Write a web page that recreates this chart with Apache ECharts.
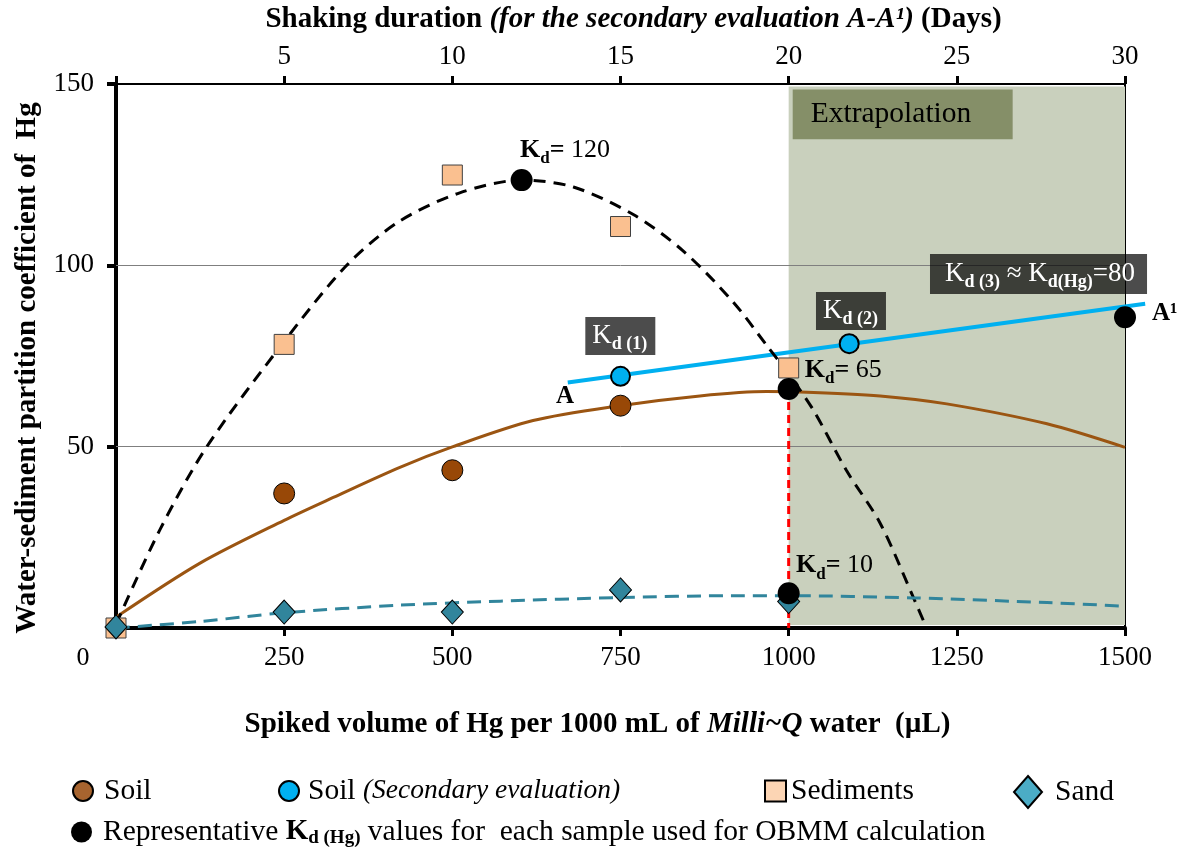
<!DOCTYPE html>
<html><head><meta charset="utf-8">
<script src="https://cdn.jsdelivr.net/npm/echarts@6/dist/echarts.min.js"></script>
<style>html,body{margin:0;padding:0;background:#fff}#c{width:1179px;height:852px}</style>
</head><body><div id="c"></div>
<script>
// ---- data ----
const soilX = [250, 500, 750];
const soilY = [37.1, 43.5, 61.3];
const soil2X = [750, 1090];
const soil2Y = [69.4, 78.4];
const sedX = [0, 250, 500, 750, 1000];
const sedY = [0, 78.2, 124.9, 110.7, 71.7];
const sandX = [0, 250, 500, 750, 1000];
const sandY = [0.3, 4.4, 4.4, 10.5, 7.3];
const repX = [603, 1000, 1000, 1500];
const repY = [123.5, 65.9, 9.6, 85.7];
const soilTrendX = [0, 125, 250, 323, 422, 501, 620, 749, 868, 967, 1017, 1136, 1235, 1384, 1500];
const soilTrendY = [3, 17.9, 29.7, 36, 44.3, 50, 57.2, 61.3, 64, 65.2, 65.1, 64, 61.8, 56.3, 49.8];
const sedTrendX = [0, 65, 135, 250, 343, 420, 511, 603, 680, 769, 843, 917, 967, 1000, 1037, 1086, 1136, 1185, 1205];
const sedTrendY = [1, 27, 50, 79, 100, 112, 120, 123.5, 121.6, 114, 104, 90, 78, 70, 60, 43.4, 28.9, 8.6, 0];
const sandTrendX = [0, 125, 250, 422, 571, 749, 917, 1002, 1185, 1384, 1500];
const sandTrendY = [0, 1.8, 4.2, 6.3, 7.4, 8.4, 8.9, 8.9, 8.3, 7, 6];
const lineAX = [671.6, 1530];
const lineAY = [67.7, 89.4];
const kdLineX = [1000, 1000];
const kdLineY = [65.9, 0];
const gridValues = [50, 100];
const xTicks = [0, 250, 500, 750, 1000, 1250, 1500];
const topTicks = [0, 5, 10, 15, 20, 25, 30];
const yTicks = [0, 50, 100, 150];
const extrapolationRange = [1000, 1500];

const zip = (xs, ys) => xs.map((x, i) => [x, ys[i]]);
const F = '"Liberation Serif", "Times New Roman", serif';

const richDark = {
  K: {fontFamily: F, fontSize: 26, fontWeight: 'bold', color: '#000', lineHeight: 34},
  s: {fontFamily: F, fontSize: 17, fontWeight: 'bold', color: '#000', lineHeight: 17, verticalAlign: 'bottom'},
  t: {fontFamily: F, fontSize: 26, color: '#000', lineHeight: 34},
  A: {fontFamily: F, fontSize: 25, fontWeight: 'bold', color: '#000', lineHeight: 30},
  Kw: {fontFamily: F, fontSize: 27, color: '#fff', lineHeight: 34},
  sw: {fontFamily: F, fontSize: 18, fontWeight: 'bold', color: '#fff', lineHeight: 18, verticalAlign: 'bottom'},
  tw: {fontFamily: F, fontSize: 27, color: '#fff', lineHeight: 34}
};
function ann(coord, text, opts) {
  return {
    coord: coord, symbol: 'circle', symbolSize: 0,
    label: Object.assign({show: true, position: 'right', distance: 0, formatter: text, rich: richDark}, opts || {})
  };
}
const boxLabel = {backgroundColor: 'rgba(0,0,0,0.7)', padding: [2, 8, 2, 7]};

const chart = echarts.init(document.getElementById('c'), null, {renderer: 'canvas'});

function legendItem(name, left, top, w, h, icon, itemStyle, fmt, padLeft) {
  return {
    show: true, data: [{name: name, icon: icon, itemStyle: Object.assign({opacity: 1}, itemStyle)}],
    left: left, top: top, itemWidth: w, itemHeight: h, padding: 0, selectedMode: false,
    formatter: fmt,
    textStyle: {fontFamily: F, fontSize: 29, color: '#000', lineHeight: 32, padding: [0, 0, 0, padLeft],
      rich: {
        i: {fontFamily: F, fontSize: 27.5, fontStyle: 'italic', color: '#000', lineHeight: 32},
        K: {fontFamily: F, fontSize: 29, fontWeight: 'bold', color: '#000', lineHeight: 32},
        s: {fontFamily: F, fontSize: 19, fontWeight: 'bold', color: '#000', lineHeight: 16, verticalAlign: 'bottom'},
        n: {fontFamily: F, fontSize: 29.5, color: '#000', lineHeight: 32}
      }
    }
  };
}

const titleRich = {
  b: {fontFamily: F, fontSize: 29, fontWeight: 'bold', color: '#000'},
  bi: {fontFamily: F, fontSize: 29, fontWeight: 'bold', fontStyle: 'italic', color: '#000'}
};

const option = {
  backgroundColor: '#fff',
  animation: false,
  grid: {left: 116, right: 54, top: 82, bottom: 224, containLabel: false},
  legend: [
    legendItem('Soil', 72, 775, 20, 20, 'circle', {color: '#a7642f', borderColor: '#000', borderWidth: 2}, '{n|Soil}', 6),
    legendItem('Soil (Secondary evaluation)', 278, 775, 20, 20, 'circle', {color: '#00b0f0', borderColor: '#000', borderWidth: 2}, '{n|Soil }{i|(Secondary evaluation)}', 4),
    legendItem('Sediments', 764, 775, 21, 21, 'rect', {color: '#fcd5b4', borderColor: '#000', borderWidth: 2}, '{n|Sediments}', 0),
    legendItem('Sand', 1013, 775, 28, 32, 'diamond', {color: '#4bacc6', borderColor: '#000', borderWidth: 2}, '{n|Sand}', 8),
    legendItem('Representative', 71, 816, 21, 21, 'circle', {color: '#000', borderColor: '#000', borderWidth: 0}, '{n|Representative }{K|K}{s|d (Hg)}{n| values for  each sample used for OBMM calculation}', 6)
  ],
  xAxis: [
    {
      type: 'value', position: 'bottom', min: xTicks[0], max: xTicks[xTicks.length - 1], interval: 250,
      axisLine: {show: true, onZero: false, lineStyle: {color: '#000', width: 4}},
      axisTick: {show: true, inside: false, length: 8, lineStyle: {color: '#000', width: 3}},
      axisLabel: {fontFamily: F, fontSize: 27, color: '#000', margin: 16, formatter: v => v === 0 ? '' : String(v)},
      splitLine: {show: false},
      name: '{b|Spiked volume of Hg per 1000 mL of }{bi|Milli~Q}{b| water  (µL)}',
      nameLocation: 'middle', nameGap: 82,
      nameTextStyle: {padding: [0, 46, 0, 0], rich: titleRich}
    },
    {
      type: 'value', position: 'top', min: topTicks[0], max: topTicks[topTicks.length - 1], interval: 5,
      axisLine: {show: true, onZero: false, lineStyle: {color: '#000', width: 2}},
      axisTick: {show: true, inside: false, length: 8, lineStyle: {color: '#000', width: 3}},
      axisLabel: {fontFamily: F, fontSize: 27, color: '#000', margin: 14, formatter: v => v === 0 ? '' : String(v)},
      splitLine: {show: false},
      name: '{b|Shaking duration }{bi|(for the secondary evaluation A-A¹)}{b| (Days)}',
      nameLocation: 'middle', nameGap: 50,
      nameTextStyle: {padding: [0, 0, 0, 26], rich: titleRich}
    }
  ],
  yAxis: [
    {
      type: 'value', position: 'left', min: yTicks[0], max: yTicks[yTicks.length - 1], interval: 50,
      axisLine: {show: true, onZero: false, lineStyle: {color: '#000', width: 4}},
      axisTick: {show: true, inside: false, length: 9, lineStyle: {color: '#000', width: 4}},
      axisLabel: {fontFamily: F, fontSize: 27, color: '#000', margin: 22, formatter: v => v === 0 ? '' : String(v)},
      splitLine: {show: false},
      name: 'Water-sediment partition coefficient of  Hg',
      nameLocation: 'middle', nameGap: 74,
      nameTextStyle: {fontFamily: F, fontSize: 29, fontWeight: 'bold', color: '#000', padding: [0, 24, 0, 0]}
    },
    {
      type: 'value', position: 'right', min: yTicks[0], max: yTicks[yTicks.length - 1], interval: 50,
      axisLine: {show: true, onZero: false, lineStyle: {color: '#000', width: 2}},
      axisTick: {show: false}, axisLabel: {show: false}, splitLine: {show: false}
    }
  ],
  series: [
    {
      name: 'soilTrend', type: 'line', data: zip(soilTrendX, soilTrendY), showSymbol: false, symbol: 'none',
      smooth: 0.3, lineStyle: {color: '#9b5512', width: 3}, z: 3,
      markArea: {silent: true, z: 1, data: [
        [{coord: [extrapolationRange[0], 0.8], itemStyle: {color: '#c9d0bd', opacity: 1}}, {coord: [extrapolationRange[1], 149.3]}],
        [{coord: [1006, 148.5], itemStyle: {color: '#858f68', opacity: 1},
          label: {show: true, position: 'insideLeft', distance: 18, formatter: 'Extrapolation', fontFamily: F, fontSize: 29.5, color: '#000'}},
         {coord: [1333, 134.8]}]
      ]}
    },
    {
      name: 'gridlines', type: 'line', data: [],
      markLine: {silent: true, symbol: 'none', z: 2, label: {show: false},
        lineStyle: {color: '#7f7f7f', width: 1, type: 'solid'},
        data: gridValues.map(v => ({yAxis: v}))}
    },
    {
      name: 'sedTrend', type: 'line', data: zip(sedTrendX, sedTrendY), showSymbol: false, symbol: 'none',
      smooth: 0.3, lineStyle: {color: '#000', width: 3, type: [12, 8]}, z: 3
    },
    {
      name: 'sandTrend', type: 'line', data: zip(sandTrendX, sandTrendY), showSymbol: false, symbol: 'none',
      smooth: 0.3, lineStyle: {color: '#31859c', width: 3, type: [14, 8]}, z: 3
    },
    {
      // A–A¹ line: drawn as a custom series so it can run past the right axis like the reference
      name: 'lineA', type: 'custom', data: zip(lineAX, lineAY), clip: false, silent: true, z: 3,
      renderItem: function (params, api) {
        if (params.dataIndex !== 0) return null;
        const p0 = api.coord([lineAX[0], lineAY[0]]);
        const p1 = api.coord([lineAX[1], lineAY[1]]);
        return {type: 'line', shape: {x1: p0[0], y1: p0[1], x2: p1[0], y2: p1[1]},
          style: {stroke: '#00b0f0', lineWidth: 4, fill: null}};
      }
    },
    {
      name: 'kdLine', type: 'line', data: zip(kdLineX, kdLineY), showSymbol: false, symbol: 'none',
      lineStyle: {color: '#ff0000', width: 3, type: [8, 5]}, z: 3
    },
    {
      name: 'Sediments', type: 'scatter', data: zip(sedX, sedY), symbol: 'rect', symbolSize: 20,
      itemStyle: {color: '#fac090', borderColor: '#404040', borderWidth: 1, opacity: 1}, z: 4
    },
    {
      name: 'Sand', type: 'scatter', data: zip(sandX, sandY), symbol: 'diamond', symbolSize: [22, 24],
      itemStyle: {color: '#31859c', borderColor: '#000', borderWidth: 1, opacity: 1}, z: 4
    },
    {
      name: 'Soil', type: 'scatter', data: zip(soilX, soilY), symbol: 'circle', symbolSize: 21,
      itemStyle: {color: '#984807', borderColor: '#000', borderWidth: 1, opacity: 1}, z: 4
    },
    {
      name: 'Soil (Secondary evaluation)', type: 'scatter', data: zip(soil2X, soil2Y), symbol: 'circle', symbolSize: 19,
      itemStyle: {color: '#00b0f0', borderColor: '#000', borderWidth: 2, opacity: 1}, z: 4
    },
    {
      name: 'Representative', type: 'scatter', data: zip(repX, repY), symbol: 'circle', symbolSize: 22,
      itemStyle: {color: '#000', opacity: 1}, z: 5,
      markPoint: {silent: true, z: 6, data: [
        ann([600.6, 131.7], '{K|K}{s|d}{K|=}{t| 120}'),
        ann([1024, 71.0], '{K|K}{s|d}{K|=}{t| 65}'),
        ann([1011, 17.2], '{K|K}{s|d}{K|=}{t| 10}'),
        ann([697.7, 80.5], '{Kw|K}{sw|d (1)}', boxLabel),
        ann([1040.6, 87.4], '{Kw|K}{sw|d (2)}', boxLabel),
        ann([1210.1, 97.6], '{Kw|K}{sw|d (3)}{tw| ≈ }{Kw|K}{sw|d(Hg)}{tw|=80}', {backgroundColor: 'rgba(0,0,0,0.7)', padding: [3, 12, 3, 15]}),
        ann([654, 63.8], '{A|A}'),
        ann([1500, 86.8], '{A|A¹}', {distance: 27}),
        ann([0, 0], '{t|0}', {position: 'inside', offset: [-33, 30]})
      ]}
    }
  ]
};
chart.setOption(option);
</script>
</body></html>
